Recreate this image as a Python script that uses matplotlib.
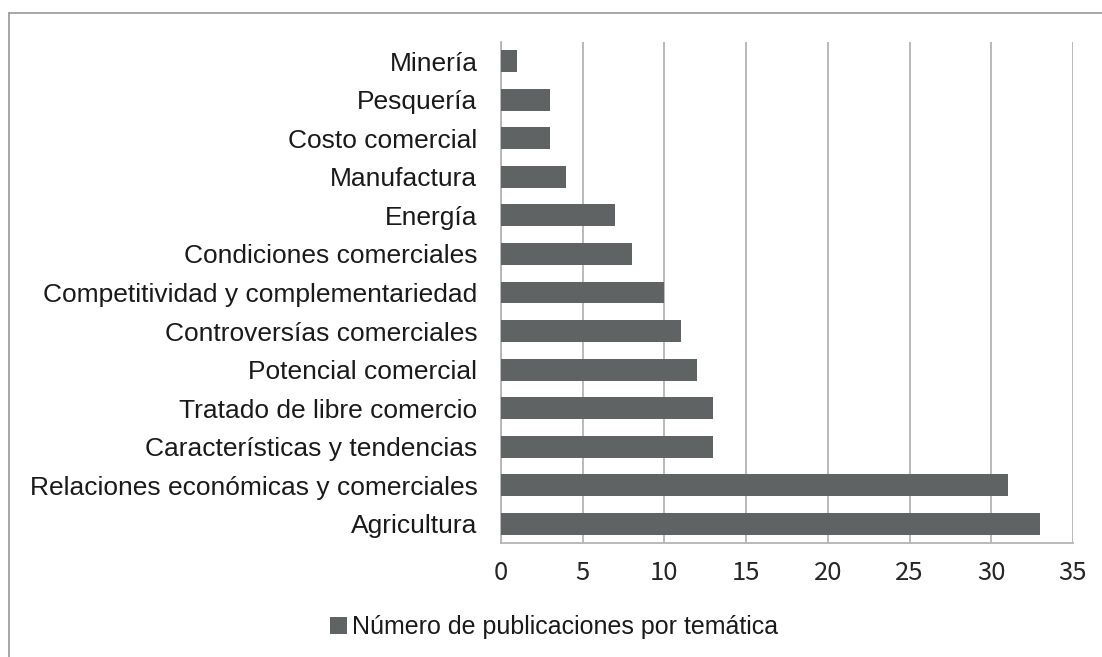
import numpy as np
import matplotlib.pyplot as plt
from matplotlib.lines import Line2D
from matplotlib.patches import Patch

categories = ['Minería', 'Pesquería', 'Costo comercial', 'Manufactura', 'Energía',
              'Condiciones comerciales', 'Competitividad y complementariedad',
              'Controversías comerciales', 'Potencial comercial',
              'Tratado de libre comercio', 'Características y tendencias',
              'Relaciones económicas y comerciales', 'Agricultura']
publicaciones = [1, 3, 3, 4, 7, 8, 10, 11, 12, 13, 13, 31, 33]
x_ticks = [0, 5, 10, 15, 20, 25, 30, 35]
serie = 'Número de publicaciones por temática'

bar_color = '#5f6364'
grid_color = '#b4b4b4'

plt.rcParams['font.family'] = ['Liberation Sans', 'DejaVu Sans']

fig = plt.figure(figsize=(11.02, 6.57), dpi=100)
ax = fig.add_axes([501 / 1102, 1 - 543 / 657, 572 / 1102, 501 / 657])

y_pos = np.arange(len(categories))
ax.barh(y_pos, publicaciones, height=0.57, color=bar_color, zorder=3, label=serie)
ax.set_ylim(len(categories) - 0.5, -0.5)
ax.set_yticks(y_pos)
ax.set_yticklabels(categories, fontsize=19, color='#1a1a1a')
ax.set_xlim(0, 35)
ax.set_xticks(x_ticks)
ax.set_xticklabels([str(t) for t in x_ticks], fontsize=18.5, color='#262626',
                   family=['Noto Sans CJK SC', 'Liberation Sans'])

ax.tick_params(axis='y', length=0, pad=17)
ax.tick_params(axis='x', length=0, pad=12)
ax.grid(axis='x', color=grid_color, linewidth=1.3, zorder=0)
for side in ['top', 'right']:
    ax.spines[side].set_visible(False)
for side in ['left', 'bottom']:
    ax.spines[side].set_color(grid_color)
    ax.spines[side].set_linewidth(1.3)

# outer frame of the chart area (top and left edge)
fig.add_artist(Line2D([9 / 1102, 1], [1 - 13 / 657, 1 - 13 / 657],
                      color='#a0a0a0', linewidth=1.3))
fig.add_artist(Line2D([9 / 1102, 9 / 1102], [0, 1 - 13 / 657],
                      color='#a0a0a0', linewidth=1.3))

handle = Patch(facecolor=bar_color, edgecolor='none')
fig.legend([handle], [serie], loc='center', bbox_to_anchor=(554 / 1102, 1 - 627 / 657),
           frameon=False, fontsize=18, handlelength=0.7, handleheight=0.7,
           handletextpad=0.2, labelcolor='#1a1a1a')

fig.savefig('out.png', dpi=100)
